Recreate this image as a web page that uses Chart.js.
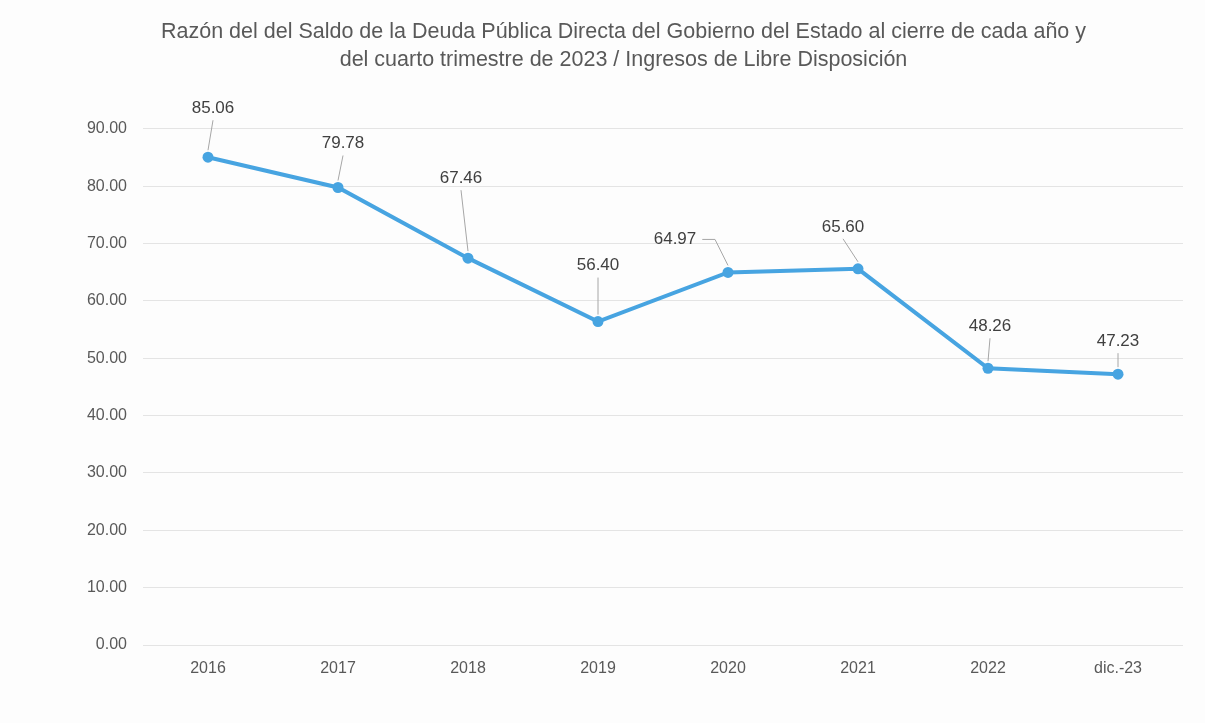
<!DOCTYPE html>
<html>
<head>
<meta charset="utf-8">
<script src="https://cdn.jsdelivr.net/npm/chart.js@4"></script>
<style>
  html, body { margin: 0; padding: 0; background: #fdfdfd; }
  canvas { display: block; }
</style>
</head>
<body>
<canvas id="c1" width="1205" height="723"></canvas>
<script>
// categorias y valores
var years = ['2016', '2017', '2018', '2019', '2020', '2021', '2022', 'dic.-23'];
var ratio = [85.06, 79.78, 67.46, 56.40, 64.97, 65.60, 48.26, 47.23];
var titleLines = [
  'Razón del del Saldo de la Deuda Pública Directa del Gobierno del Estado al cierre de cada año y',
  'del cuarto trimestre de 2023 / Ingresos de Libre Disposición'
];

var FONT = '"Liberation Sans", sans-serif';

// etiquetas con linea guia (desplazamiento en px respecto al punto, elbow = linea quebrada)
var labelPlugin = {
  id: 'leaderLabels',
  afterDatasetsDraw: function(chart, args, opts) {
    var ctx = chart.ctx;
    var meta = chart.getDatasetMeta(0);
    ctx.save();
    ctx.font = '17px ' + FONT;
    ctx.fillStyle = '#404040';
    ctx.strokeStyle = '#a6a6a6';
    ctx.lineWidth = 1;
    meta.data.forEach(function(pt, i) {
      var off = opts.offsets[i];
      var txt = ratio[i].toFixed(2);
      var lx = pt.x + off[0], ly = pt.y + off[1];
      ctx.textAlign = 'center';
      ctx.textBaseline = 'middle';
      ctx.fillText(txt, lx, ly);
      ctx.beginPath();
      if (off[2]) {
        var w = ctx.measureText(txt).width;
        ctx.moveTo(lx + w / 2 + 6, ly);
        ctx.lineTo(pt.x - 13, ly);
        ctx.lineTo(pt.x, pt.y - 7);
      } else {
        ctx.moveTo(lx, ly + 12);
        ctx.lineTo(pt.x, pt.y - 7);
      }
      ctx.stroke();
    });
    ctx.restore();
  }
};

var ctx = document.getElementById('c1').getContext('2d');
var chart1 = new Chart(ctx, {
  type: 'line',
  data: {
    labels: years,
    datasets: [{
      data: ratio,
      borderColor: '#47a4e1',
      backgroundColor: '#47a4e1',
      borderWidth: 4,
      pointRadius: 5.5,
      pointBackgroundColor: '#47a4e1',
      pointBorderWidth: 0,
      tension: 0
    }]
  },
  options: {
    responsive: false,
    animation: false,
    layout: { padding: { left: 64, right: 22, top: 0, bottom: 0 } },
    plugins: {
      legend: { display: false },
      tooltip: { enabled: false },
      title: {
        display: true,
        text: titleLines,
        color: '#595959',
        font: { family: FONT, size: 21.5, weight: 'normal', lineHeight: 1.3 },
        padding: { top: 18, bottom: 55 }
      },
      leaderLabels: {
        offsets: [[5, -49], [5, -44], [-7, -80], [0, -56], [-53, -33, true], [-15, -42], [2, -42], [0, -33]]
      }
    },
    scales: {
      x: {
        offset: true,
        grid: { display: false },
        border: { display: false },
        ticks: { color: '#595959', font: { family: FONT, size: 16 }, padding: 6 },
        afterFit: function(s) { s.height = 78; }
      },
      y: {
        min: 0,
        max: 90,
        ticks: {
          stepSize: 10,
          color: '#595959',
          padding: 16,
          font: { family: FONT, size: 16 },
          callback: function(v) { return v.toFixed(2); }
        },
        grid: { color: '#e4e4e4', drawTicks: false },
        border: { display: false },
        afterFit: function(s) { s.width = 79; }
      }
    }
  },
  plugins: [labelPlugin]
});
</script>
</body>
</html>
